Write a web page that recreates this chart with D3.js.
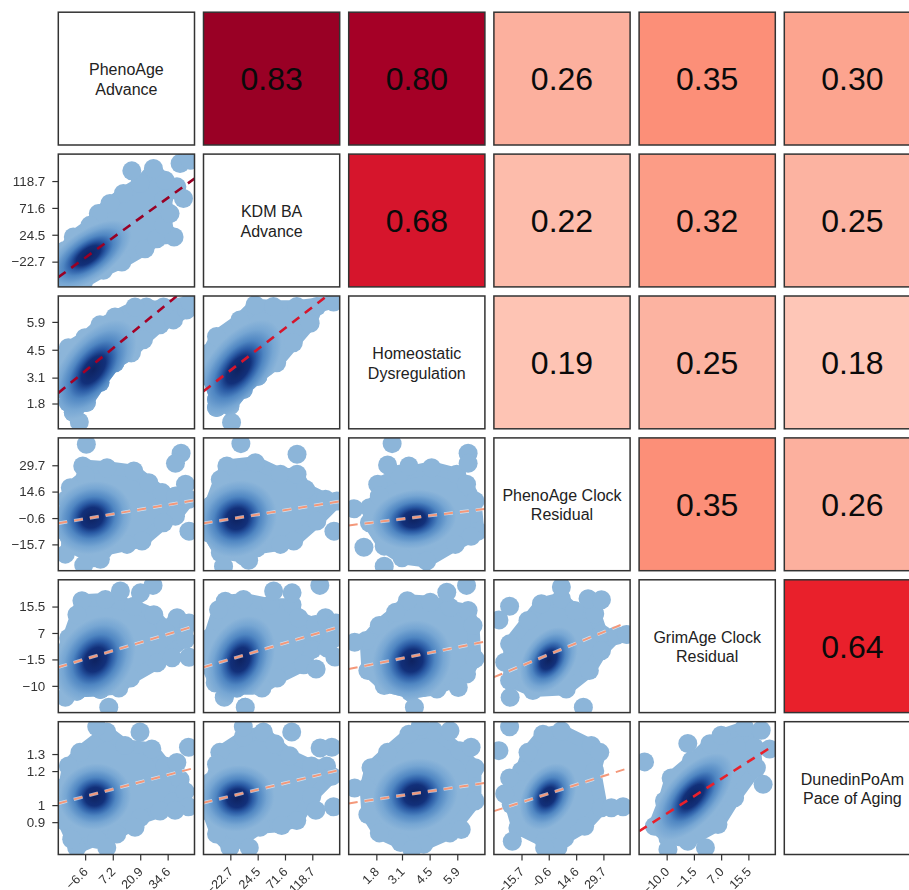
<!DOCTYPE html>
<html>
<meta charset="utf-8">
<style>
  html, body { margin: 0; padding: 0; background: #fff; overflow: hidden; }
  svg { display: block; filter: blur(0.45px); }
  text { font-family: "Liberation Sans", Arial, sans-serif; }
  .tick text { font-size: 13.4px; fill: #333; }
  .tick line { stroke: #333; stroke-width: 1.2; }
</style>
<body>
<div id="chart"></div>
<script src="https://d3js.org/d3.v7.min.js"></script>
<script>
// variable names, one array of lines per diagonal cell
var names = [
  ["PhenoAge", "Advance"],
  ["KDM BA", "Advance"],
  ["Homeostatic", "Dysregulation"],
  ["PhenoAge Clock", "Residual"],
  ["GrimAge Clock", "Residual"],
  ["DunedinPoAm", "Pace of Aging"]
];

// correlations, upper triangle by row
var corrRows = [
  [0.83, 0.80, 0.26, 0.35, 0.30],
  [0.68, 0.22, 0.32, 0.25],
  [0.19, 0.25, 0.18],
  [0.35, 0.26],
  [0.64]
];
var corrStops = [0.18, 0.22, 0.26, 0.30, 0.35, 0.64, 0.68, 0.80];
var corrColors = ["#FEC6B7", "#FDBCAB", "#FCB09E", "#FCA48F", "#FC8F78", "#E9202B", "#D6152C", "#A50026"];

// axis domains
var xDomains = [[-20, 48], [-69, 166], [0.4, 7.3], [-31, 44.5], [-18.6, 23.9]];
var yDomains = [null, [-67, 166], [0.53, 7.2], [-30.8, 45.4], [-18.6, 24.1], [0.71, 1.49]];

// ticks
var xTicks = [[-6.6, 7.2, 20.9, 34.6], [-22.7, 24.5, 71.6, 118.7], [1.8, 3.1, 4.5, 5.9], [-15.7, -0.6, 14.6, 29.7], [-10, -1.5, 7, 15.5]];
var xTickLabels = [["\u22126.6", "7.2", "20.9", "34.6"], ["\u221222.7", "24.5", "71.6", "118.7"], ["1.8", "3.1", "4.5", "5.9"], ["\u221215.7", "-0.6", "14.6", "29.7"], ["\u221210.0", "\u22121.5", "7.0", "15.5"]];
var yTicks = [null, [118.7, 71.6, 24.5, -22.7], [5.9, 4.5, 3.1, 1.8], [29.7, 14.6, -0.6, -15.7], [15.5, 7, -1.5, -10], [1.3, 1.2, 1, 0.9]];
var yTickLabels = [null, ["118.7", "71.6", "24.5", "\u221222.7"], ["5.9", "4.5", "3.1", "1.8"], ["29.7", "14.6", "\u22120.6", "\u221215.7"], ["15.5", "7", "\u22121.5", "\u221210"], ["1.3", "1.2", "1", "0.9"]];

// outline of each point cloud [x, y], strays [x, y], density core [cx, cy, sx, sy, r], fit line [x0, y0, x1, y1]
var blob_1_0 = [[-16.7,-58.7],[-7.5,-58.7],[2.5,-38],[11.7,-23.5],[23.3,0],[29.2,17.6],[37.8,20.4],[32.5,41],[35.8,61.6],[32.5,85],[39.2,108.5],[33.3,120],[27.5,140.8],[20.8,114.4],[12.5,96.8],[5.8,79.2],[0,61.6],[-4.2,41],[-12.5,20.4],[-16.7,-3],[-19,-26]];
var stray_1_0 = [[42.5,88],[40.8,149.6],[45.8,155],[16.7,136.6]];
var core_1_0 = [-5, -11.8, 21.5, 61.6, 0.6];
var fit_1_0 = [-20, -50, 48, 123];

var blob_2_0 = [[-12.5,1.35],[-6,1.85],[0.8,2.85],[8.3,3.85],[16.5,4.35],[22.5,5],[30.8,5.75],[37.5,6],[44,6.5],[45.8,6.9],[32.5,6.65],[24,6.65],[18.3,6.65],[8.3,6.15],[0.8,5.75],[-6.7,5.1],[-15,4.6],[-19,3.85],[-17.5,2.5],[-15,1.85]];
var stray_2_0 = [[-9.5,0.87]];
var core_2_0 = [-2.5, 3.5, 21.5, 2.5, 0.55];
var fit_2_0 = [-20, 2.33, 39.2, 7.2];

var blob_2_1 = [[-46.5,1.6],[-23.5,1.67],[-0.3,2.5],[25,3.17],[57.3,3.85],[86,4.85],[115,5.83],[126.5,6.67],[155.4,6.9],[92,6.67],[51.6,6.67],[19.8,6.75],[-6.2,6],[-46.5,5.17],[-60.9,4.33],[-60.9,3.17],[-46.5,2]];
var stray_2_1 = [[-20.6,0.85]];
var core_2_1 = [-9, 3.5, 75, 2.5, 0.55];
var fit_2_1 = [-69, 2.42, 143.8, 7.2];

var blob_3_0 = [[-7.8,29.3],[4.3,28.3],[17.7,26.4],[25.2,19.7],[31.8,14],[38.5,12],[45.2,10.2],[38.5,0.5],[32.5,-3.3],[21.8,-13.8],[14.3,-15.7],[2.7,-18.6],[-2.5,-23.4],[-14,-16.7],[-18.1,-7.1],[-15.7,10.2],[-14,16.8],[-6.5,23.5]];
var stray_3_0 = [[-6,41.8],[41.3,36.6],[38.5,30.8],[43.5,18.8],[45.2,-8.1],[-7.3,-27.6],[1,-24.2],[-16.5,-21.3]];
var core_3_0 = [-3.2, -0.4, 20, 21, 0.1];
var fit_3_0 = [-20, -3.6, 48, 9.6];

var blob_3_1 = [[-28.7,29.3],[20.4,31.2],[63.7,24.5],[92.4,24.5],[107,15.9],[141.5,10.2],[161,9.2],[126.5,-2.3],[86.7,-13.8],[63.7,-15.7],[23.2,-17.7],[0,-22.4],[-40,-20.5],[-60.4,-9],[-69,-1.2],[-57.4,6.3],[-40,21.6]];
var stray_3_1 = [[-4.5,42.1],[92.4,36],[156,-8.1],[-34.4,-28.2],[8.9,-24.8]];
var core_3_1 = [-11.4, -1, 69, 22, 0.1];
var fit_3_1 = [-69, -3.6, 166, 9];

var blob_3_2 = [[1.87,18.8],[2.95,24.5],[4.6,28.3],[5.87,24.5],[6.37,18.8],[6.8,9.2],[6.95,-8.1],[6.6,-11],[5.8,-15.7],[4.35,-25.3],[3.1,-23.4],[2.2,-16.7],[1.45,-3.3],[1.45,5.3],[1.95,12]];
var stray_3_2 = [[2.6,42.1],[6.45,36.6],[6.45,30.8],[2.37,29.9],[0.67,4.7],[1.17,-17.3],[2.2,-28.2],[3.45,29.3]];
var core_3_2 = [3.7, -1.3, 2.15, 17, 0.1];
var fit_3_2 = [0.4, -4.8, 7.3, 4.6];

var blob_4_0 = [[-8.2,17.4],[3.5,17.8],[17.7,15.6],[27.7,12.9],[33.5,8.6],[39.3,11.9],[45.2,10.2],[43.5,4.9],[29.3,-2.6],[16,-7.5],[10.2,-10.7],[1,-11.2],[-10.7,-11.7],[-17.3,-8.5],[-19,-1],[-14.8,5.4],[-10.7,12.9]];
var stray_4_0 = [[27.3,22.3],[5.2,-16.9],[45.2,-0.8],[36.8,-1],[-16.5,-13.7],[21,19.9],[11,20.5]];
var core_4_0 = [-1.5, -1.6, 20, 14, 0.25];
var fit_4_0 = [-20, -4, 48, 9.2];

var blob_4_1 = [[-31.5,17.2],[0,17.8],[46.4,16.1],[83.8,16.1],[95.4,11.9],[124.2,9.7],[141.5,11.9],[158.8,10.2],[153,4.9],[118.4,1.7],[104,-3.2],[57.8,-7.5],[31.9,-10.7],[-11.4,-10.7],[-48.8,-9],[-63.3,-3.2],[-58.6,5.4],[-43,14.5]];
var stray_4_1 = [[131.7,22.3],[52,20.5],[83.8,19.9],[3.1,-16.9],[-33.2,-13.7],[125.3,-4.6],[157.6,-0.7],[144.3,2.2]];
var core_4_1 = [-5.5, -1.6, 60, 14, 0.25];
var fit_4_1 = [-69, -4, 166, 9];

var blob_4_2 = [[3.37,17.4],[4.53,16.9],[5.53,15.3],[6.45,14.2],[6.7,9.4],[6.8,-1.3],[6.37,-6.2],[4.87,-11],[3.53,-12],[2.2,-9.9],[1.37,-5.1],[1.28,4.6],[1.95,9.4],[2.78,13.7]];
var stray_4_2 = [[6.37,22.3],[0.7,4],[3.73,-16.9],[5.95,-10.5],[5.37,20.1]];
var core_4_2 = [3.6, -1.9, 2, 13, 0.1];
var fit_4_2 = [0.4, -4.6, 7.3, 4.2];

var blob_4_3 = [[-4.7,16.4],[6.4,18],[13.8,14.2],[24.9,13.2],[28.6,6.7],[36.9,6.2],[28.6,1.3],[21.9,-5.1],[9.1,-11],[-9.4,-11.5],[-22.3,-8.3],[-22.3,3.5],[-12.1,11]];
var stray_4_3 = [[-22.3,15.6],[-28.2,11.2],[-22,-13.7],[18.6,-16.9],[21.2,18],[6.4,21.8],[42.4,6.5],[-25,-2.4],[28.6,17.7]];
var core_4_3 = [-0.6, -1.7, 16, 10.6, 0.35];
var fit_4_3 = [-31, -7.2, 40.6, 9.9];

var blob_5_0 = [[-9.2,1.31],[4.2,1.43],[13.3,1.35],[26.7,1.33],[33.3,1.23],[39.2,1.25],[40.8,1.15],[37.5,1.02],[30.8,0.965],[20.8,0.925],[9.2,0.83],[-0.8,0.8],[-10.8,0.75],[-13.3,0.8],[-17.5,0.91],[-16.7,1.11],[-15,1.23]];
var stray_5_0 = [[-0.8,1.46],[20.8,1.43],[45,1.34],[4.2,0.75],[43.3,1.08],[45,0.99],[38.3,0.97],[18.3,0.87]];
var core_5_0 = [-1.7, 1.05, 18, 0.195, 0.05];
var fit_5_0 = [-20, 1.01, 47.5, 1.217];

var blob_5_1 = [[-40.8,1.31],[-0.3,1.4],[34.3,1.43],[54.3,1.36],[79.8,1.29],[117.3,1.23],[143.3,1.23],[152.4,1.17],[117.8,1.05],[91.9,0.91],[65.9,0.88],[28.4,0.87],[-23.5,0.75],[-46.5,0.83],[-60.9,0.965],[-55.2,1.14],[-46.5,1.24]];
var stray_5_1 = [[-0.3,1.46],[83.2,1.43],[152.4,1.34],[10,0.75],[124.8,0.97],[155.4,0.99],[132.2,1.335]];
var core_5_1 = [-10.7, 1.04, 64, 0.195, 0.05];
var fit_5_1 = [-69, 1.014, 166, 1.207];

var blob_5_2 = [[2.37,1.31],[3.45,1.417],[4.7,1.437],[6.03,1.32],[6.8,1.22],[6.8,1.024],[5.53,0.837],[4.2,0.77],[3.03,0.78],[1.95,0.837],[1.37,0.945],[1.28,1.1],[1.53,1.22]];
var stray_5_2 = [[0.7,1.1],[4.03,1.466],[5.53,1.437],[6.1,0.857],[3.6,0.74],[6.6,1.34]];
var core_5_2 = [3.78, 1.06, 2.15, 0.215, 0.1];
var fit_5_2 = [0.4, 1.01, 7.3, 1.13];

var blob_5_3 = [[-12.1,1.31],[-3.8,1.417],[6.4,1.437],[23,1.35],[27.7,1.31],[24.9,1.2],[28.6,0.984],[19.3,0.876],[8.2,0.807],[-2.9,0.788],[-17.7,0.866],[-21.4,1.004],[-15.8,1.2]];
var stray_5_3 = [[-22.3,1.46],[-28.2,1.32],[-20.8,0.788],[4.5,0.75],[-2.9,0.75],[40.6,0.99],[34.1,0.984],[-25,1.067],[-22.3,1.16]];
var core_5_3 = [-1, 1.05, 15.7, 0.195, 0.3];
var fit_5_3 = [-31, 0.965, 43.4, 1.217];

var blob_5_4 = [[-13.8,0.876],[-10.7,1.024],[-8.6,1.16],[-2.3,1.26],[3.5,1.36],[7,1.41],[14.3,1.456],[17.4,1.34],[18,1.22],[11.2,1.043],[6,0.886],[-3.4,0.788],[-9.6,0.807]];
var stray_5_4 = [[-16.9,1.254],[-3.4,1.362],[2.1,0.75],[20.1,1.122],[-9.6,0.74],[19.5,1.44],[22.1,1.33]];
var core_5_4 = [-1.8, 1.05, 12.5, 0.255, 0.6];
var fit_5_4 = [-18.6, 0.847, 23.2, 1.348];

var panels = [
  {r: 1, c: 0, blob: blob_1_0, stray: stray_1_0, core: core_1_0, fit: fit_1_0},
  {r: 2, c: 0, blob: blob_2_0, stray: stray_2_0, core: core_2_0, fit: fit_2_0},
  {r: 2, c: 1, blob: blob_2_1, stray: stray_2_1, core: core_2_1, fit: fit_2_1},
  {r: 3, c: 0, blob: blob_3_0, stray: stray_3_0, core: core_3_0, fit: fit_3_0},
  {r: 3, c: 1, blob: blob_3_1, stray: stray_3_1, core: core_3_1, fit: fit_3_1},
  {r: 3, c: 2, blob: blob_3_2, stray: stray_3_2, core: core_3_2, fit: fit_3_2},
  {r: 4, c: 0, blob: blob_4_0, stray: stray_4_0, core: core_4_0, fit: fit_4_0},
  {r: 4, c: 1, blob: blob_4_1, stray: stray_4_1, core: core_4_1, fit: fit_4_1},
  {r: 4, c: 2, blob: blob_4_2, stray: stray_4_2, core: core_4_2, fit: fit_4_2},
  {r: 4, c: 3, blob: blob_4_3, stray: stray_4_3, core: core_4_3, fit: fit_4_3},
  {r: 5, c: 0, blob: blob_5_0, stray: stray_5_0, core: core_5_0, fit: fit_5_0},
  {r: 5, c: 1, blob: blob_5_1, stray: stray_5_1, core: core_5_1, fit: fit_5_1},
  {r: 5, c: 2, blob: blob_5_2, stray: stray_5_2, core: core_5_2, fit: fit_5_2},
  {r: 5, c: 3, blob: blob_5_3, stray: stray_5_3, core: core_5_3, fit: fit_5_3},
  {r: 5, c: 4, blob: blob_5_4, stray: stray_5_4, core: core_5_4, fit: fit_5_4}
];

// layout
var width = 909, height = 890;
var cellW = 136.2, cellH = 132.8;
var colX = function(c) { return 58.3 + c * 145.2; };
var rowY = function(r) { return 12.2 + r * 141.9; };
var dotR = 9.5;
var cloudColor = "#8CB5D9";

var svg = d3.select("#chart").append("svg")
    .attr("width", width)
    .attr("height", height);

var defs = svg.append("defs");

// density ramp for the dark core
var ramp = defs.append("radialGradient").attr("id", "dens");
[[0, "#0E2260"], [0.28, "#12307A"], [0.42, "#2A5BA5"], [0.58, "#4F86C2"], [0.8, "#76A6D3"], [1, cloudColor]].forEach(function(s) {
    ramp.append("stop").attr("offset", s[0]).attr("stop-color", s[1]);
});

var corrColor = d3.scaleLinear().domain(corrStops).range(corrColors);

function cellBorder(g) {
    g.append("rect")
        .attr("width", cellW)
        .attr("height", cellH)
        .attr("fill", "none")
        .attr("stroke", "#333")
        .attr("stroke-width", 1.5);
}

// upper triangle
corrRows.forEach(function(row, r) {
    row.forEach(function(v, k) {
        var c = r + 1 + k;
        var g = svg.append("g").attr("transform", "translate(" + colX(c) + "," + rowY(r) + ")");
        g.append("rect")
            .attr("width", cellW)
            .attr("height", cellH)
            .attr("fill", corrColor(v));
        cellBorder(g);
        g.append("text")
            .attr("x", cellW / 2)
            .attr("y", cellH / 2 + 11.5)
            .attr("text-anchor", "middle")
            .attr("font-size", 32)
            .attr("fill", "#0a0a0a")
            .text(v.toFixed(2));
    });
});

// diagonal
names.forEach(function(lines, i) {
    var g = svg.append("g").attr("transform", "translate(" + colX(i) + "," + rowY(i) + ")");
    g.append("rect").attr("width", cellW).attr("height", cellH).attr("fill", "#fff");
    cellBorder(g);
    g.selectAll("text.lab")
        .data(lines)
        .enter().append("text")
        .attr("class", "lab")
        .attr("x", cellW / 2)
        .attr("y", function(d, j) { return 63 + j * 19.5; })
        .attr("text-anchor", "middle")
        .attr("font-size", 16)
        .attr("fill", "#222")
        .text(function(d) { return d; });
});

// lower triangle
panels.forEach(function(p, i) {
    var x = d3.scaleLinear().domain(xDomains[p.c]).range([0, cellW]);
    var y = d3.scaleLinear().domain(yDomains[p.r]).range([cellH, 0]);
    var g = svg.append("g").attr("transform", "translate(" + colX(p.c) + "," + rowY(p.r) + ")");

    defs.append("clipPath").attr("id", "panel" + i)
        .append("rect").attr("width", cellW).attr("height", cellH);

    var outline = d3.line()
        .x(function(d) { return x(d[0]); })
        .y(function(d) { return y(d[1]); })
        .curve(d3.curveLinearClosed);

    // the outline gets a round stroke a bit thinner than the dots, so the dots still scallop the edge
    function drawCloud(sel, color) {
        sel.append("path")
            .attr("d", outline(p.blob))
            .attr("fill", color)
            .attr("stroke", color)
            .attr("stroke-width", dotR * 1.35)
            .attr("stroke-linejoin", "round");
        sel.selectAll("circle")
            .data(p.blob.concat(p.stray))
            .enter().append("circle")
            .attr("cx", function(d) { return x(d[0]); })
            .attr("cy", function(d) { return y(d[1]); })
            .attr("r", dotR)
            .attr("fill", color);
    }

    var cloudMask = defs.append("mask")
        .attr("id", "cloud" + i)
        .attr("maskUnits", "userSpaceOnUse")
        .attr("x", 0).attr("y", 0)
        .attr("width", cellW).attr("height", cellH);
    drawCloud(cloudMask, "#fff");

    var inner = g.append("g").attr("clip-path", "url(#panel" + i + ")");
    inner.append("g").call(drawCloud, cloudColor);

    // density core, unit circle mapped through the two scales
    var cx = x(p.core[0]), cy = y(p.core[1]);
    var sx = x(p.core[0] + p.core[2]) - cx, sy = cy - y(p.core[1] + p.core[3]);
    var rho = p.core[4];
    inner.append("g").attr("mask", "url(#cloud" + i + ")")
        .append("circle")
        .attr("r", 1)
        .attr("fill", "url(#dens)")
        .attr("transform", "matrix(" + [sx, -rho * sy, 0, Math.sqrt(1 - rho * rho) * sy, cx, cy].join(",") + ")");

    // fit line
    var rval = corrRows[p.c][p.r - p.c - 1];
    var seg = inner.append("g");
    function fitLine(color, w, op) {
        seg.append("line")
            .attr("x1", x(p.fit[0])).attr("y1", y(p.fit[1]))
            .attr("x2", x(p.fit[2])).attr("y2", y(p.fit[3]))
            .attr("stroke", color)
            .attr("stroke-width", w)
            .attr("stroke-opacity", op)
            .attr("stroke-dasharray", "9,7");
    }
    if (rval < 0.5) fitLine("#fff", 3.4, 0.6);
    fitLine(rval < 0.5 ? "#F4987A" : corrColor(rval), rval < 0.5 ? 2 : 2.6, 1);

    cellBorder(g);

    if (p.c === 0) {
        g.append("g")
            .call(d3.axisLeft(y).tickValues(yTicks[p.r]).tickSize(6).tickPadding(7)
                .tickFormat(function(d, j) { return yTickLabels[p.r][j]; }))
            .call(function(a) { a.select(".domain").remove(); a.attr("font-family", null).attr("font-size", null); });
    }
    if (p.r === 5) {
        g.append("g")
            .attr("transform", "translate(0," + cellH + ")")
            .call(d3.axisBottom(x).tickValues(xTicks[p.c]).tickSize(6)
                .tickFormat(function(d, j) { return xTickLabels[p.c][j]; }))
            .call(function(a) {
                a.select(".domain").remove();
                a.attr("font-family", null).attr("font-size", null);
                a.selectAll("text")
                    .attr("text-anchor", "end")
                    .attr("dy", null)
                    .attr("y", 0)
                    .style("font-size", "12.6px")
                    .attr("transform", "translate(3,18) rotate(-45)");
            });
    }
});
</script>
</body>
</html>
